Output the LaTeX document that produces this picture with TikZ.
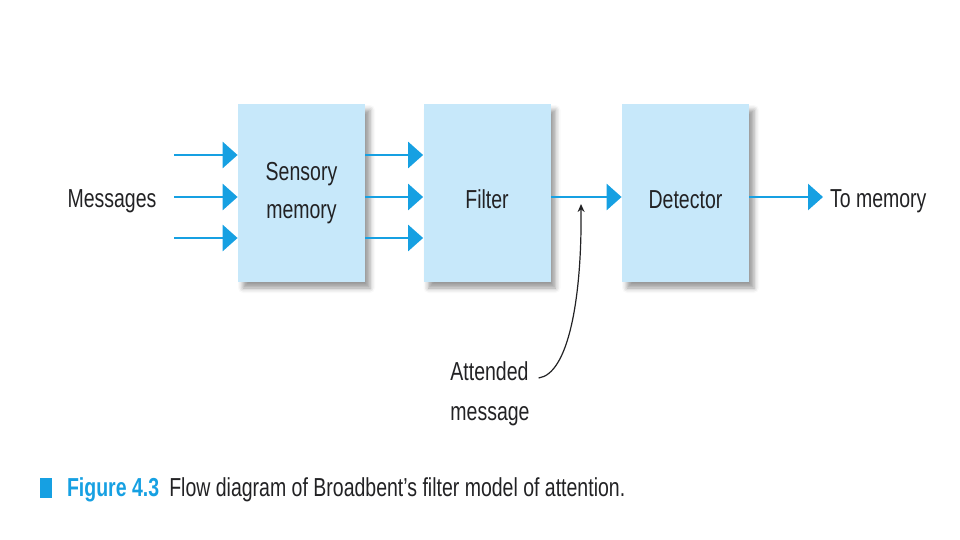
\documentclass[tikz,border=0pt]{standalone}
\usepackage{fontspec}
\setmainfont{Liberation Sans}[FakeStretch=0.75]
\usepackage{xcolor}
\usetikzlibrary{arrows.meta,positioning,calc,shadows.blur}
\definecolor{boxblue}{RGB}{199,232,250}
\definecolor{flowblue}{RGB}{22,160,226}
\definecolor{inkgray}{RGB}{34,34,36}

\begin{document}
\begin{tikzpicture}[
  x=0.5pt, y=-0.5pt,
  font=\fontsize{13}{19}\selectfont, text=inkgray,
  box/.style={fill=boxblue, minimum width=63.5pt, minimum height=89pt, align=center,
    blur shadow={shadow xshift=2.5pt, shadow yshift=-3pt, shadow blur radius=2.5pt}},
  arr/.style={-{Triangle[length=7.5pt,width=13pt]}, line width=1.4pt, draw=flowblue, color=flowblue},
  note/.style={-{Stealth[length=4pt,width=3.5pt]}, semithick, draw=inkgray}
]
\useasboundingbox (0,0) rectangle (960,540);
% boxes
\node[box] (sm) at (301.5,193) {Sensory\\memory};
\node[box, text height=16pt, text depth=0pt] (flt) at (487,193) {Filter};
\node[box, text height=16pt, text depth=0pt] (det) at (685.5,193) {Detector};
% labels
\node (msg) at (112,201) {Messages};
\node[anchor=west] (mem) at (823,201) {To memory};
\node[align=left] (att) at (490,394) {Attended\\[1pt]message};
% flows
\foreach \dy [count=\i] in {155,197,238}{
  \coordinate (in\i) at (174,\dy);
  \draw[arr] (in\i) -- (in\i -| sm.west);
  \draw[arr] (in\i -| sm.east) -- (in\i -| flt.west);
}
\draw[arr] (in2 -| flt.east) -- (in2 -| det.west);
\draw[arr] (in2 -| det.east) -- (in2 -| mem.west);
\coordinate (tap) at (581,204);
\draw[note] ($(att.east)+(2,-16)$) .. controls (568,374) and (582,300) .. (tap);
% caption
\node[fill=flowblue, minimum width=6pt, minimum height=10pt, inner sep=0pt] (sq) at (46,488) {};
\node[anchor=west, text=flowblue, font=\fontsize{13}{15}\selectfont\bfseries] (fig) at (60,490) {Figure 4.3};
\node[right=-2pt of fig] (cap) {Flow diagram of Broadbent's filter model of attention.};
\end{tikzpicture}
\end{document}
